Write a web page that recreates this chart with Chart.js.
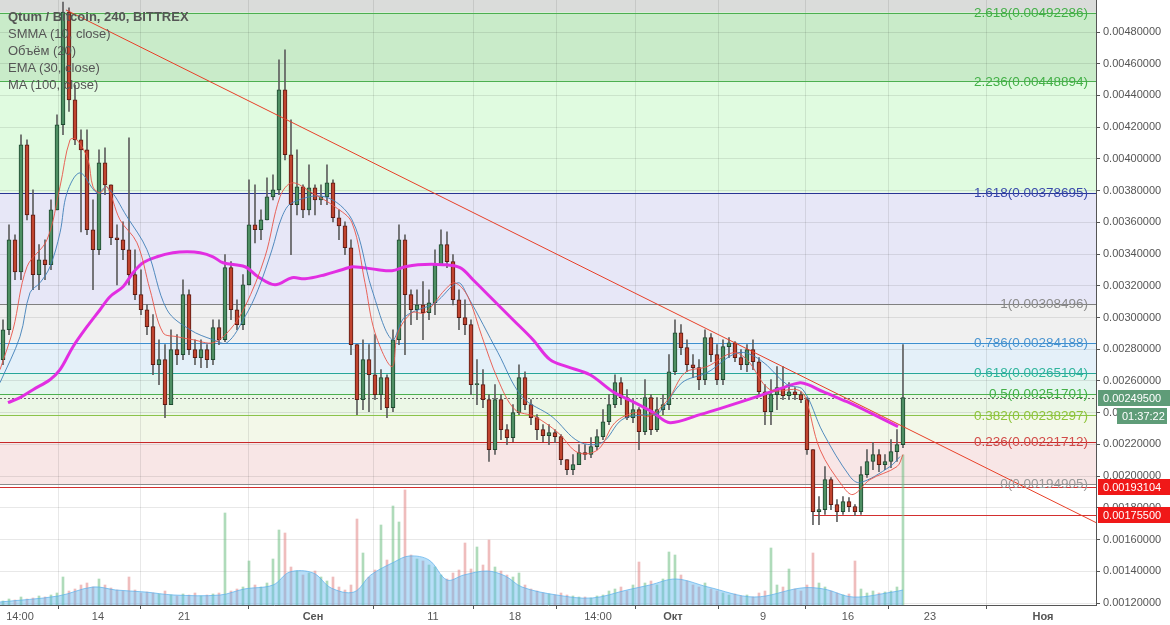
<!DOCTYPE html>
<html lang="ru"><head>
<meta charset="utf-8"/>
<title>Qtum / Bitcoin, 240, BITTREX</title>
<script src="https://cdn.jsdelivr.net/npm/chart.js"></script>
<style>
        body { margin: 0; background: #fff; font-family: 'Liberation Sans', Arial, sans-serif; }
        #wrap { position: relative; width: 1170px; height: 625px; }
        #legend { position: absolute; left: 8px; top: 8px; font-size: 13px; line-height: 17px; color: #555; pointer-events: none; }
        #legend .title { font-weight: bold; }
    </style>
</head>
<body>
<div id="wrap">
<canvas id="chart" width="1170" height="625"></canvas>
<div id="legend">
<div class="title">Qtum / Bitcoin, 240, BITTREX</div>
<div>SMMA (10, close)</div>
<div>Объём (20)</div>
<div>EMA (30, close)</div>
<div>MA (100, close)</div>
</div>
</div>
<script>
        // candles (one per slot, open = previous close)
        const firstOpen = 0.002734;
        const closes = [
            0.002923, 0.003490, 0.003288, 0.004089, 0.003647, 0.003270, 0.003364, 0.003333, 0.003679, 0.004215,
            0.004926, 0.004372, 0.004120, 0.004057, 0.003553, 0.003427, 0.003975, 0.003836, 0.003503, 0.003490,
            0.003427, 0.003270, 0.003144, 0.003049, 0.002942, 0.002702, 0.002734, 0.002451, 0.002797, 0.002766,
            0.003144, 0.002797, 0.002747, 0.002797, 0.002734, 0.002936, 0.002860, 0.003314, 0.003049, 0.002955,
            0.003206, 0.003585, 0.003553, 0.003616, 0.003761, 0.003805, 0.004435, 0.004026, 0.003711, 0.003824,
            0.003679, 0.003818, 0.003742, 0.003761, 0.003849, 0.003629, 0.003578, 0.003440, 0.002829, 0.002482,
            0.002734, 0.002639, 0.002514, 0.002621, 0.002432, 0.002860, 0.003490, 0.003144, 0.003049, 0.003080,
            0.003030, 0.003093, 0.003333, 0.003459, 0.003352, 0.003112, 0.002999, 0.002955, 0.002577, 0.002577,
            0.002482, 0.002167, 0.002482, 0.002293, 0.002243, 0.002400, 0.002621, 0.002451, 0.002369, 0.002293,
            0.002255, 0.002274, 0.002249, 0.002104, 0.002041, 0.002072, 0.002148, 0.002136, 0.002186, 0.002249,
            0.002343, 0.002451, 0.002589, 0.002495, 0.002369, 0.002419, 0.002280, 0.002495, 0.002293, 0.002419,
            0.002451, 0.002658, 0.002904, 0.002810, 0.002702, 0.002684, 0.002608, 0.002873, 0.002766, 0.002608,
            0.002816, 0.002841, 0.002747, 0.002702, 0.002797, 0.002721, 0.002532, 0.002406, 0.002514, 0.002558,
            0.002507, 0.002532, 0.002514, 0.002482, 0.002167, 0.001776, 0.001789, 0.001978, 0.001820, 0.001776,
            0.001839, 0.001808, 0.001776, 0.002009, 0.002092, 0.002136, 0.002072, 0.002092, 0.002154, 0.002199,
            0.002495
        ];
        const highs = [
            0.002986, 0.003585, 0.003522, 0.004152, 0.004120, 0.003805, 0.003459, 0.003490, 0.003742, 0.004278,
            0.004989, 0.004952, 0.004466, 0.004183, 0.004183, 0.003742, 0.004057, 0.004070, 0.003836, 0.003585,
            0.003603, 0.004133, 0.003427, 0.003301, 0.003080, 0.003018, 0.002860, 0.002829, 0.002923, 0.002892,
            0.003238, 0.003175, 0.002860, 0.002860, 0.002829, 0.002986, 0.002986, 0.003396, 0.003352, 0.003112,
            0.003270, 0.003868, 0.003836, 0.003679, 0.003881, 0.003899, 0.004624, 0.004687, 0.004246, 0.004057,
            0.003836, 0.003962, 0.003836, 0.003836, 0.003962, 0.003868, 0.003679, 0.003603, 0.003490, 0.002829,
            0.002860, 0.002829, 0.002892, 0.002671, 0.002639, 0.002923, 0.003585, 0.003522, 0.003175, 0.003175,
            0.003226, 0.003175, 0.003427, 0.003553, 0.003540, 0.003396, 0.003175, 0.003112, 0.002986, 0.002734,
            0.002671, 0.002514, 0.002577, 0.002514, 0.002325, 0.002451, 0.002702, 0.002658, 0.002482, 0.002388,
            0.002325, 0.002325, 0.002293, 0.002262, 0.002104, 0.002136, 0.002199, 0.002199, 0.002243, 0.002293,
            0.002419, 0.002514, 0.002639, 0.002621, 0.002545, 0.002482, 0.002432, 0.002608, 0.002514, 0.002495,
            0.002514, 0.002766, 0.002986, 0.002955, 0.002860, 0.002766, 0.002734, 0.002923, 0.002898, 0.002829,
            0.002860, 0.002873, 0.002848, 0.002797, 0.002829, 0.002860, 0.002747, 0.002577, 0.002608, 0.002690,
            0.002690, 0.002589, 0.002558, 0.002532, 0.002495, 0.002167, 0.001871, 0.002060, 0.001991, 0.001852,
            0.001871, 0.001865, 0.001820, 0.002060, 0.002167, 0.002211, 0.002167, 0.002136, 0.002230, 0.002293,
            0.002829
        ];
        const lows = [
            0.002702, 0.002892, 0.003238, 0.003238, 0.003616, 0.003175, 0.003175, 0.003238, 0.003301, 0.003742,
            0.004152, 0.004300, 0.004089, 0.003540, 0.003522, 0.003175, 0.003396, 0.003774, 0.003459, 0.003206,
            0.003364, 0.003206, 0.003112, 0.003018, 0.002892, 0.002639, 0.002577, 0.002369, 0.002451, 0.002702,
            0.002734, 0.002766, 0.002702, 0.002684, 0.002684, 0.002702, 0.002829, 0.002848, 0.002986, 0.002923,
            0.002923, 0.003270, 0.003471, 0.003490, 0.003616, 0.003742, 0.003774, 0.003994, 0.003396, 0.003647,
            0.003629, 0.003647, 0.003647, 0.003711, 0.003711, 0.003603, 0.003490, 0.003396, 0.002766, 0.002388,
            0.002419, 0.002406, 0.002482, 0.002419, 0.002369, 0.002406, 0.002829, 0.002766, 0.002955, 0.002986,
            0.002860, 0.002986, 0.003018, 0.003333, 0.003314, 0.003080, 0.002923, 0.002892, 0.002514, 0.002451,
            0.002432, 0.002092, 0.002136, 0.002230, 0.002199, 0.002217, 0.002388, 0.002419, 0.002325, 0.002230,
            0.002217, 0.002199, 0.002211, 0.002072, 0.002009, 0.002009, 0.002072, 0.002104, 0.002117, 0.002167,
            0.002230, 0.002325, 0.002432, 0.002451, 0.002356, 0.002337, 0.002167, 0.002262, 0.002262, 0.002280,
            0.002388, 0.002419, 0.002639, 0.002766, 0.002658, 0.002621, 0.002545, 0.002577, 0.002721, 0.002577,
            0.002577, 0.002747, 0.002721, 0.002671, 0.002658, 0.002671, 0.002507, 0.002325, 0.002325, 0.002419,
            0.002482, 0.002482, 0.002482, 0.002463, 0.002136, 0.001694, 0.001694, 0.001758, 0.001789, 0.001713,
            0.001758, 0.001776, 0.001751, 0.001758, 0.001991, 0.002041, 0.002028, 0.002041, 0.002054, 0.002092,
            0.002180
        ];
        const volumes = [
            4, 6, 5, 8, 6, 7, 9, 8, 10, 12,
            28, 14, 16, 20, 22, 18, 26, 20, 17, 15,
            14, 28, 15, 12, 13, 12, 11, 14, 10, 9,
            11, 10, 12, 9, 10, 11, 12, 92, 14, 16,
            18, 44, 20, 18, 22, 46, 75, 72, 38, 34,
            30, 32, 34, 28, 24, 28, 18, 15, 20, 86,
            52, 28, 35, 80, 45, 99, 83, 115, 50, 46,
            44, 40, 38, 30, 26, 32, 35, 62, 36, 58,
            40, 65, 38, 34, 30, 28, 32, 20, 16, 14,
            12, 11, 10, 12, 10, 9, 8, 8, 7, 9,
            10, 14, 16, 18, 14, 20, 43, 22, 24, 20,
            26, 53, 50, 30, 24, 20, 18, 22, 16, 14,
            12, 10, 11, 9, 10, 8, 12, 14, 57, 20,
            18, 36, 16, 14, 20, 52, 22, 18, 14, 12,
            10, 11, 44, 16, 12, 14, 12, 13, 14, 18,
            150
        ];

        // volume MA (20)
        const volMaX = [-0.5, 9.2, 15, 18.8, 23.7, 28.5, 36.2, 40.2, 45, 47.8, 51.7, 54.7, 58.5, 61.3, 65.2, 67.7, 71, 74, 76.8, 80.7, 83.7, 86.5, 92.3, 98.2, 104, 107.8, 112.2, 117.5, 125.2, 133, 136.8, 141.7, 148.3, 150];
        const volMaY = [3, 9, 18, 15, 13, 10, 10, 16, 20, 33, 32, 17, 13, 30, 43, 49, 45, 25, 30, 34, 29, 18, 10, 7, 15, 20, 26, 18, 8, 17, 16, 8, 13, 15];

        // SMMA (10)
        const smmaX = [-0.5, 1.67, 4, 7.33, 9.5, 11.17, 12.33, 14.17, 15, 16.17, 17.33, 19.5, 22.33, 24.5, 26.67, 29, 31.67, 35, 37.83, 40.33, 43.67, 46.17, 48.17, 51.5, 55.33, 58.17, 60.33, 62, 64.83, 65.83, 68.17, 70.33, 73.67, 75.33, 77.5, 79.83, 82.5, 85.33, 88.67, 92.5, 95.83, 99.17, 102, 105.33, 107.5, 110.83, 113.67, 117.33, 121.67, 124, 127.83, 132.33, 133.67, 136.17, 140, 141.67, 144.5, 149, 150];
        const smmaY = [0.002671, 0.002923, 0.003320, 0.003490, 0.003824, 0.004120, 0.004120, 0.003994, 0.003824, 0.003786, 0.003824, 0.003616, 0.003471, 0.003175, 0.002904, 0.002879, 0.002860, 0.002841, 0.002923, 0.003068, 0.003383, 0.003761, 0.003849, 0.003786, 0.003698, 0.003597, 0.003219, 0.002904, 0.002690, 0.002904, 0.003030, 0.003030, 0.003175, 0.003219, 0.003131, 0.002879, 0.002608, 0.002419, 0.002375, 0.002274, 0.002148, 0.002167, 0.002337, 0.002400, 0.002375, 0.002482, 0.002652, 0.002690, 0.002778, 0.002734, 0.002545, 0.002545, 0.002501, 0.002167, 0.001934, 0.001884, 0.001978, 0.002060, 0.002136];

        // EMA (30)
        const emaX = [-0.5, 2.83, 4.5, 6.17, 7.83, 9.5, 10.67, 12.83, 15.67, 17.33, 20.67, 24, 27.33, 31.17, 35, 37.33, 40.33, 42.5, 44.83, 46.5, 48.17, 53.67, 58.17, 61.5, 64.83, 67, 72, 75.83, 77.5, 82.5, 86.5, 91.5, 96, 99.83, 103.17, 107, 109.33, 113.17, 117.33, 122.5, 126.17, 130.67, 133.33, 136.67, 141.17, 142.83, 147.83, 149.5];
        const emaY = [0.002589, 0.002879, 0.003156, 0.003219, 0.003320, 0.003534, 0.003786, 0.003912, 0.003786, 0.003824, 0.003635, 0.003427, 0.003049, 0.002923, 0.002860, 0.002841, 0.003005, 0.003175, 0.003427, 0.003635, 0.003723, 0.003761, 0.003616, 0.003175, 0.002860, 0.003005, 0.003093, 0.003219, 0.003131, 0.002778, 0.002501, 0.002375, 0.002217, 0.002211, 0.002356, 0.002388, 0.002400, 0.002589, 0.002652, 0.002778, 0.002734, 0.002577, 0.002545, 0.002274, 0.001997, 0.001959, 0.002060, 0.002123];

        // MA (100)
        const maX = [0.83, 2.83, 5, 7.83, 9.5, 11.67, 14, 16.17, 17.83, 20, 21.67, 23.33, 25.67, 28.33, 30.67, 32.83, 35, 36.67, 40.33, 42.5, 45.33, 48.17, 50.33, 53.67, 56.5, 58.33, 62.5, 64.83, 67, 69.17, 73.33, 76.17, 78.33, 81.17, 85, 88.33, 91.17, 94, 97.83, 101.67, 105, 108.33, 111.17, 116.17, 120, 125.67, 130, 132.83, 134.17, 136.67, 140.67, 144.5, 149.17];
        const maY = [0.002463, 0.002495, 0.002545, 0.002608, 0.002671, 0.002816, 0.002942, 0.003049, 0.003131, 0.003194, 0.003282, 0.003345, 0.003383, 0.003408, 0.003414, 0.003408, 0.003383, 0.003345, 0.003320, 0.003257, 0.003206, 0.003251, 0.003244, 0.003270, 0.003301, 0.003320, 0.003301, 0.003295, 0.003320, 0.003333, 0.003333, 0.003314, 0.003238, 0.003131, 0.002986, 0.002860, 0.002734, 0.002690, 0.002639, 0.002532, 0.002469, 0.002402, 0.002337, 0.002388, 0.002432, 0.002501, 0.002558, 0.002589, 0.002577, 0.002532, 0.002469, 0.002400, 0.002312];

        // fibonacci retracement
        const fibRatios = [2.618, 2.236, 1.618, 1, 0.786, 0.618, 0.5, 0.382, 0.236, 0];
        const fibPrices = [0.00492286, 0.00448894, 0.00378695, 0.00308496, 0.00284188, 0.00265104, 0.00251701, 0.00238297, 0.00221712, 0.00194905];

        // trend line, horizontal levels, last price
        const trendX = [10.5, 182.17];
        const trendY = [0.004939, 0.001707];
        const levelPrices = [0.00193104, 0.00175500];
        const levelStart = [-0.5, 135];
        const lastPrice = 0.002495;
        const countdown = '01:37:22';

        // axes
        const xTickPos = [2.83, 15.83, 30.17, 51.67, 71.67, 85.33, 99.17, 111.67, 126.67, 140.83, 154.5, 173.33];
        const xTickLabels = ['14:00', '14', '21', 'Сен', '11', '18', '14:00', 'Окт', '9', '16', '23', 'Ноя'];
        const monthLabels = ['Сен', 'Окт', 'Ноя'];
        const yTicks = [0.0012, 0.0014, 0.0016, 0.0018, 0.0020, 0.0022, 0.0024, 0.0026, 0.0028, 0.0030, 0.0032, 0.0034, 0.0036, 0.0038, 0.0040, 0.0042, 0.0044, 0.0046, 0.0048];

        const bandColors = ['#dadcda', '#c9ebc9', '#e0fbe0', '#e7e7f7', '#f0f0f0', '#e4f0f9', '#e4f6ef', '#ebf7e6', '#f3f8e9', '#f8e6e6'];
        const fibLineColors = ['#4caf50', '#4caf50', '#283593', '#808080', '#3d8fcf', '#26a69a', '#4caf50', '#8bc34a', '#c62828', '#8a8a8a'];
        const fibTextColors = ['#43b047', '#43b047', '#3949ab', '#8a8a8a', '#4a94d0', '#2fb59c', '#43b047', '#8fc43a', '#d24a48', '#9a9a9a'];
        const FONT = "'Liberation Sans', Arial, sans-serif";
        Chart.defaults.font.family = FONT;

        const pts = (xs, ys) => xs.map((x, i) => ({ x: x, y: ys[i] }));
        const opens = closes.map((c, i) => i === 0 ? firstOpen : closes[i - 1]);
        const isUp = closes.map((c, i) => c >= opens[i]);
        const noPad = s => { s.paddingTop = 0; s.paddingBottom = 0; s.paddingLeft = 0; s.paddingRight = 0; };

        const overlay = {
            id: 'overlay',
            beforeDraw(chart) {
                const { ctx, chartArea: a } = chart;
                const y = chart.scales.y;
                ctx.save();
                ctx.fillStyle = '#ffffff';
                ctx.fillRect(0, 0, chart.width, chart.height);
                const edges = [a.top].concat(fibPrices.map(p => y.getPixelForValue(p)));
                bandColors.forEach((col, k) => {
                    const t = Math.max(a.top, edges[k]);
                    const b = Math.min(a.bottom, edges[k + 1]);
                    if (b > t) {
                        ctx.fillStyle = col;
                        ctx.fillRect(a.left, t, a.right - a.left, b - t);
                    }
                });
                ctx.restore();
            },
            beforeDatasetsDraw(chart) {
                const { ctx, chartArea: a } = chart;
                const y = chart.scales.y, x = chart.scales.x;
                ctx.save();
                ctx.lineWidth = 1;
                fibPrices.forEach((p, k) => {
                    const py = Math.round(y.getPixelForValue(p)) + 0.5;
                    ctx.strokeStyle = fibLineColors[k];
                    ctx.beginPath();
                    ctx.moveTo(a.left, py);
                    ctx.lineTo(a.right, py);
                    ctx.stroke();
                });
                ctx.strokeStyle = '#d32f2f';
                levelPrices.forEach((p, k) => {
                    const py = Math.round(y.getPixelForValue(p)) + 0.5;
                    ctx.beginPath();
                    ctx.moveTo(Math.max(a.left, x.getPixelForValue(levelStart[k])), py);
                    ctx.lineTo(a.right, py);
                    ctx.stroke();
                });
                const ly = Math.round(y.getPixelForValue(lastPrice)) + 0.5;
                ctx.strokeStyle = '#666';
                ctx.setLineDash([2, 2]);
                ctx.beginPath();
                ctx.moveTo(a.left, ly);
                ctx.lineTo(a.right, ly);
                ctx.stroke();
                ctx.restore();
            },
            afterDatasetsDraw(chart) {
                const { ctx, chartArea: a } = chart;
                const y = chart.scales.y;
                ctx.save();
                ctx.font = '13.5px ' + FONT;
                ctx.textAlign = 'right';
                ctx.textBaseline = 'middle';
                fibPrices.forEach((p, k) => {
                    ctx.fillStyle = fibTextColors[k];
                    ctx.fillText(fibRatios[k] + '(' + p.toFixed(8) + ')', a.right - 8, y.getPixelForValue(p) + 0.5);
                });
                ctx.restore();
            },
            afterDraw(chart) {
                const { ctx, chartArea: a } = chart;
                const y = chart.scales.y;
                const box = (py, text, bg, x0, w) => {
                    ctx.fillStyle = bg;
                    ctx.fillRect(x0, Math.round(py) - 8, w, 16);
                    ctx.fillStyle = '#fff';
                    ctx.fillText(text, x0 + 5, Math.round(py) + 0.5);
                };
                ctx.save();
                ctx.font = '11px ' + FONT;
                ctx.textAlign = 'left';
                ctx.textBaseline = 'middle';
                const ly = y.getPixelForValue(lastPrice);
                box(ly, lastPrice.toFixed(8), '#5f9c78', a.right + 2, chart.width - a.right - 2);
                box(ly + 18, countdown, '#5f9c78', a.right + 21, 50);
                levelPrices.forEach(p => box(y.getPixelForValue(p), p.toFixed(8), '#f01818', a.right + 2, chart.width - a.right - 2));
                ctx.restore();
            }
        };

        const ctx = document.getElementById('chart').getContext('2d');
        new Chart(ctx, {
            type: 'bar',
            data: {
                datasets: [
                    {
                        type: 'line', label: 'trend', order: 0,
                        data: pts(trendX, trendY),
                        borderColor: 'rgb(232, 64, 40)', borderWidth: 1, pointRadius: 0
                    },
                    {
                        type: 'line', label: 'SMMA (10, close)', order: 1,
                        data: pts(smmaX, smmaY),
                        borderColor: 'rgba(232, 84, 72, 0.9)', borderWidth: 1, pointRadius: 0, tension: 0.35
                    },
                    {
                        type: 'line', label: 'EMA (30, close)', order: 2,
                        data: pts(emaX, emaY),
                        borderColor: 'rgba(64, 128, 184, 0.9)', borderWidth: 1, pointRadius: 0, tension: 0.35
                    },
                    {
                        type: 'line', label: 'MA (100, close)', order: 3,
                        data: pts(maX, maY),
                        borderColor: 'rgb(226, 46, 226)', borderWidth: 3, pointRadius: 0, tension: 0.35
                    },
                    {
                        label: 'body', order: 4, grouped: false,
                        data: closes.map((c, i) => ({ x: i, y: [opens[i], c] })),
                        backgroundColor: isUp.map(u => u ? '#4e8f63' : '#c0442f'),
                        borderColor: isUp.map(u => u ? '#1f4a30' : '#5b1a13'),
                        borderWidth: 1, borderSkipped: false, barThickness: 4, minBarLength: 1
                    },
                    {
                        label: 'wick', order: 5, grouped: false,
                        data: closes.map((c, i) => ({ x: i, y: [Math.min(lows[i], opens[i], c), Math.max(highs[i], opens[i], c)] })),
                        backgroundColor: '#5e5e5e', barThickness: 1
                    },
                    {
                        type: 'line', label: 'Объём MA', order: 6, yAxisID: 'yv',
                        data: pts(volMaX, volMaY),
                        borderColor: 'rgba(90, 175, 235, 0.7)', borderWidth: 1,
                        backgroundColor: 'rgba(96, 182, 240, 0.45)', fill: 'origin', pointRadius: 0, tension: 0.35
                    },
                    {
                        label: 'Объём (20)', order: 7, yAxisID: 'yv', grouped: false,
                        data: volumes.map((v, i) => ({ x: i, y: v })),
                        backgroundColor: isUp.map(u => u ? 'rgba(110, 190, 130, 0.55)' : 'rgba(225, 135, 135, 0.55)'),
                        barThickness: 2
                    }
                ]
            },
            options: {
                responsive: false,
                animation: false,
                devicePixelRatio: 1,
                layout: { padding: 0 },
                plugins: { legend: { display: false }, tooltip: { enabled: false } },
                scales: {
                    x: {
                        type: 'linear', min: -0.5, max: 182.17, offset: false,
                        grid: { color: 'rgba(0, 0, 0, 0.09)', tickLength: 4, tickColor: '#555' },
                        border: { color: '#555' },
                        ticks: {
                            autoSkip: false, maxRotation: 0, padding: 1, color: '#555',
                            font: c => ({ size: 11, weight: monthLabels.includes(xTickLabels[c.index]) ? 'bold' : 'normal' }),
                            callback: (v, i) => xTickLabels[i]
                        },
                        afterBuildTicks: s => { s.ticks = xTickPos.map(v => ({ value: v })); },
                        afterFit: s => { s.height = 20; noPad(s); }
                    },
                    y: {
                        position: 'right', min: 0.0011874, max: 0.0050018,
                        grid: { color: 'rgba(0, 0, 0, 0.09)', tickLength: 4, tickColor: '#555' },
                        border: { color: '#555' },
                        ticks: { color: '#555', padding: 3, font: { size: 11 }, callback: v => v.toFixed(8) },
                        afterBuildTicks: s => { s.ticks = yTicks.map(v => ({ value: v })); },
                        afterFit: s => { s.width = 74; noPad(s); }
                    },
                    yv: { display: false, min: 0, max: 605 }
                }
            },
            plugins: [overlay]
        });
    </script>
</body></html>
